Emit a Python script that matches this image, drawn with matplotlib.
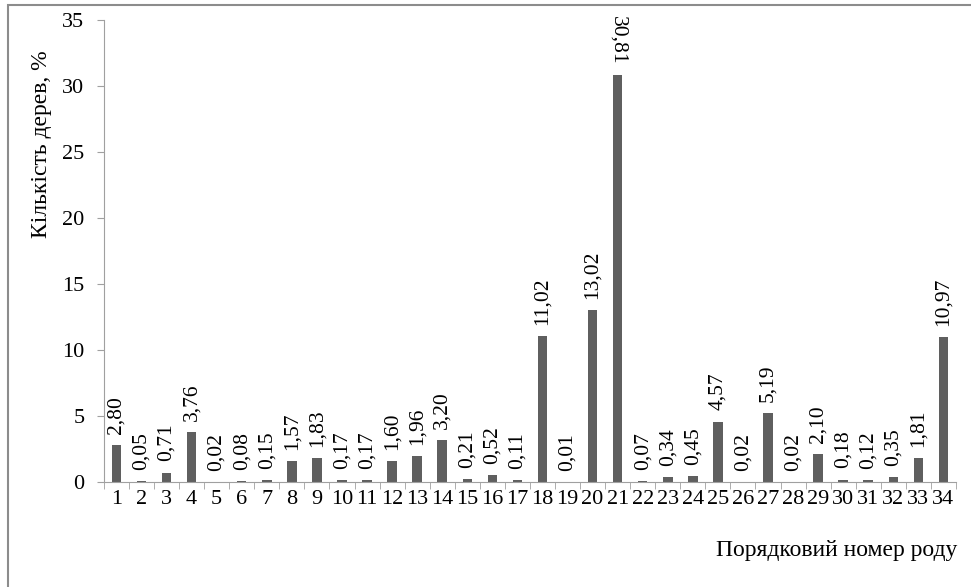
import numpy as np
import matplotlib.pyplot as plt
from matplotlib.patches import Rectangle

# номери родів та частка дерев, %
rody = list(range(1, 35))
chastka = [2.80, 0.05, 0.71, 3.76, 0.02, 0.08, 0.15, 1.57, 1.83, 0.17,
           0.17, 1.60, 1.96, 3.20, 0.21, 0.52, 0.11, 11.02, 0.01, 13.02,
           30.81, 0.07, 0.34, 0.45, 4.57, 0.02, 5.19, 0.02, 2.10, 0.18,
           0.12, 0.35, 1.81, 10.97]
y_ticks = [0, 5, 10, 15, 20, 25, 30, 35]

plt.rcParams['font.family'] = ['Liberation Serif', 'DejaVu Serif']

fig = plt.figure(figsize=(9.71, 5.87), dpi=100)
ax = fig.add_axes([0.107, 0.179, 0.8775, 0.787])

x = np.arange(len(rody))
ax.bar(x, chastka, width=0.38, color='#5f5f5f', zorder=2)

for xi, v in zip(x, chastka):
    txt = f'{v:.2f}'.replace('.', ',')
    rot = 270 if v > 30 else 90
    ax.annotate(txt, (xi, v), xytext=(0, 8), textcoords='offset points',
                rotation=rot, ha='center', va='bottom', fontsize=15.5)

ax.set_xlim(-0.5, len(rody) - 0.5)
ax.set_ylim(0, 35)
ax.set_yticks(y_ticks)
ax.tick_params(axis='y', labelsize=16, length=5, color='#a0a0a0', pad=9)

# підписи по центру, риски між стовпчиками
ax.set_xticks(x)
ax.set_xticklabels([str(r) for r in rody])
ax.tick_params(axis='x', which='major', length=0, labelsize=16, pad=6)
ax.set_xticks(np.arange(-0.5, len(rody)), minor=True)
ax.tick_params(axis='x', which='minor', length=5, color='#a0a0a0')

for s in ['top', 'right']:
    ax.spines[s].set_visible(False)
for s in ['left', 'bottom']:
    ax.spines[s].set_color('#a0a0a0')

fig.text(0.986, 0.063, 'Порядковий номер роду', ha='right', va='center',
         fontsize=17)
fig.text(0.043, 0.755, 'Кількість дерев, %', rotation=90, ha='center',
         va='center', fontsize=17)

# рамка діаграми
fig.patches.append(Rectangle((0.008, -0.1), 1.1, 1.092,
                             transform=fig.transFigure, fill=False,
                             edgecolor='#8c8c8c', linewidth=1.5))

fig.savefig('out.png', dpi=100)
